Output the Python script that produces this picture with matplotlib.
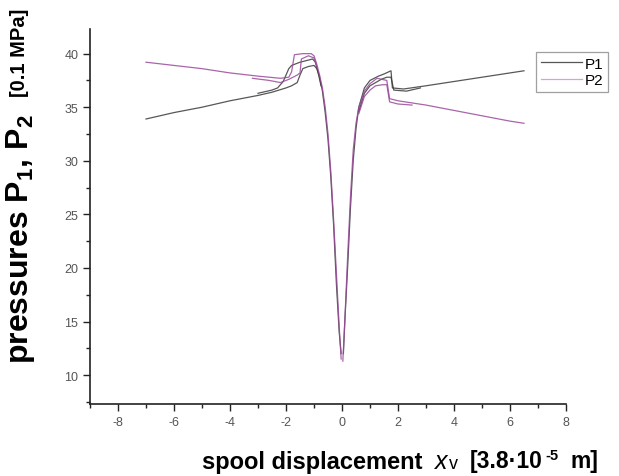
import matplotlib
matplotlib.use('Agg')
import matplotlib.pyplot as plt
from matplotlib.lines import Line2D
from matplotlib.ticker import MultipleLocator

plt.rcParams['font.family'] = ['Liberation Sans', 'DejaVu Sans']
plt.rcParams['mathtext.fontset'] = 'custom'
plt.rcParams['mathtext.rm'] = 'Liberation Sans'
plt.rcParams['mathtext.it'] = 'Liberation Sans:italic'
plt.rcParams['mathtext.bf'] = 'Liberation Sans:bold'
plt.rcParams['axes.unicode_minus'] = False

# P1 branches (spool displacement, pressure)
p1_left_a_x = [-7.0, -6.5, -6.0, -5.0, -4.0, -3.0, -2.5, -2.0, -1.8, -1.6, -1.5, -1.4, -1.2, -1.0,
               -0.9, -0.8, -0.7, -0.6, -0.5, -0.4, -0.3, -0.2, -0.1, -0.03]
p1_left_a_y = [33.9, 34.2, 34.5, 35.0, 35.6, 36.1, 36.4, 36.8, 37.0, 37.3, 38.0, 38.6, 38.8, 38.9,
               38.6, 37.8, 36.5, 34.5, 32.0, 28.5, 24.0, 18.5, 14.0, 12.0]
p1_left_b_x = [-3.0, -2.5, -2.3, -2.1, -1.9, -1.8, -1.5, -1.2, -1.05, -0.95, -0.85, -0.75]
p1_left_b_y = [36.3, 36.6, 36.8, 37.4, 38.6, 38.9, 39.2, 39.4, 39.5, 39.2, 38.2, 37.0]
p1_right_a_x = [0.05, 0.1, 0.2, 0.3, 0.4, 0.5, 0.6, 0.8, 1.0, 1.3, 1.5, 1.75, 1.8, 2.2, 3.0, 4.0, 5.0, 6.0, 6.5]
p1_right_a_y = [12.0, 15.0, 20.0, 25.5, 30.0, 33.0, 35.0, 36.8, 37.5, 37.9, 38.1, 38.4, 36.8, 36.7,
                37.0, 37.4, 37.8, 38.2, 38.4]
p1_right_b_x = [0.6, 0.8, 1.0, 1.2, 1.4, 1.6, 1.75, 1.85, 2.3, 2.8]
p1_right_b_y = [34.6, 36.3, 37.0, 37.3, 37.6, 37.8, 37.8, 36.6, 36.5, 36.8]

# P2 branches
p2_left_a_x = [-7.0, -6.0, -5.0, -4.0, -3.0, -2.2, -1.9, -1.8, -1.7, -1.4, -1.1, -1.0, -0.9, -0.8,
               -0.7, -0.6, -0.5, -0.4, -0.3, -0.2, -0.1, -0.03]
p2_left_a_y = [39.2, 38.9, 38.6, 38.2, 37.9, 37.7, 37.8, 38.3, 39.9, 40.0, 40.0, 39.8, 39.0, 38.0,
               36.8, 35.0, 32.5, 29.0, 24.5, 19.5, 14.5, 11.5]
p2_left_b_x = [-3.2, -2.6, -2.2, -1.9, -1.6, -1.5, -1.45, -1.2, -1.0, -0.9]
p2_left_b_y = [37.7, 37.5, 37.3, 37.6, 38.0, 38.2, 39.5, 39.8, 39.6, 38.8]
p2_right_a_x = [0.03, 0.1, 0.2, 0.3, 0.4, 0.5, 0.6, 0.8, 1.0, 1.25, 1.6, 1.7, 2.0, 3.0, 4.0, 5.0, 6.0, 6.5]
p2_right_a_y = [11.3, 15.0, 21.0, 26.5, 31.0, 33.5, 35.0, 36.5, 37.2, 37.7, 37.5, 35.8, 35.6, 35.2,
                34.7, 34.2, 33.7, 33.5]
p2_right_b_x = [0.6, 0.8, 1.0, 1.2, 1.45, 1.6, 1.7, 2.0, 2.5]
p2_right_b_y = [34.4, 36.0, 36.6, 37.0, 37.1, 37.1, 35.5, 35.3, 35.2]

x_ticks = [-8, -6, -4, -2, 0, 2, 4, 6, 8]
y_ticks = [10, 15, 20, 25, 30, 35, 40]

c1 = '#3a3a3a'
c2 = '#9a4a9a'

fig = plt.figure(figsize=(6.19, 4.77), dpi=100)
ax = fig.add_axes([90 / 619, 72 / 477, 476 / 619, 375 / 477])

for xs, ys in [(p1_left_a_x, p1_left_a_y), (p1_left_b_x, p1_left_b_y),
               (p1_right_a_x, p1_right_a_y), (p1_right_b_x, p1_right_b_y)]:
    ax.plot(xs, ys, color=c1, lw=0.9, alpha=0.85)
for xs, ys in [(p2_left_a_x, p2_left_a_y), (p2_left_b_x, p2_left_b_y),
               (p2_right_a_x, p2_right_a_y), (p2_right_b_x, p2_right_b_y)]:
    ax.plot(xs, ys, color=c2, lw=0.9, alpha=0.85)

ax.set_xlim(-9, 8)
ax.set_ylim(7.3, 42.3)
ax.set_xticks(x_ticks)
ax.set_yticks(y_ticks)
ax.xaxis.set_minor_locator(MultipleLocator(1))
ax.yaxis.set_minor_locator(MultipleLocator(2.5))
ax.spines['top'].set_visible(False)
ax.spines['right'].set_visible(False)
for s in ['left', 'bottom']:
    ax.spines[s].set_linewidth(1.2)
    ax.spines[s].set_color('#222222')
ax.tick_params(which='major', direction='out', length=5, width=1, colors='#222222',
               labelsize=9, labelcolor='#555555')
ax.tick_params(which='minor', direction='out', length=3, width=1, colors='#222222')

handles = [Line2D([], [], color='#555555', lw=0.9), Line2D([], [], color='#d8a0dc', lw=0.9)]
leg = ax.legend(handles, ['P1', 'P2'], loc='upper left', bbox_to_anchor=(0.937, 0.938),
                borderaxespad=0, fancybox=False, edgecolor='#888888', fontsize=11,
                handlelength=2.7, handletextpad=0.2, labelspacing=0.15, borderpad=0.3)
leg.get_frame().set_linewidth(0.9)

# y label
fig.text(21 / 619, 1 - 364 / 477, r'pressures P$_\mathregular{1}$, P$_\mathregular{2}$', rotation=90,
         ha='center', va='bottom', fontsize=23, fontweight='bold')
fig.text(20 / 619, 1 - 9 / 477, '[0.1 MPa]', rotation=90, ha='center', va='top',
         fontsize=14.5, fontweight='bold')

# x label
fig.text(202 / 619, 1 - 469 / 477, 'spool displacement', ha='left', va='baseline',
         fontsize=17, fontweight='bold')
fig.text(433 / 619, 1 - 469 / 477, r'$x$', ha='left', va='baseline', fontsize=18)
fig.text(449 / 619, 1 - 469 / 477, 'v', ha='left', va='baseline', fontsize=13)
fig.text(470 / 619, 1 - 468 / 477, '[3.8\u00b710', ha='left', va='baseline',
         fontsize=16.5, fontweight='bold')
fig.text(545 / 619, 1 - 460 / 477, '-5', ha='left', va='baseline',
         fontsize=10.5, fontweight='bold')
fig.text(570 / 619, 1 - 468 / 477, 'm]', ha='left', va='baseline',
         fontsize=16.5, fontweight='bold')

fig.savefig('out.png', dpi=100)
